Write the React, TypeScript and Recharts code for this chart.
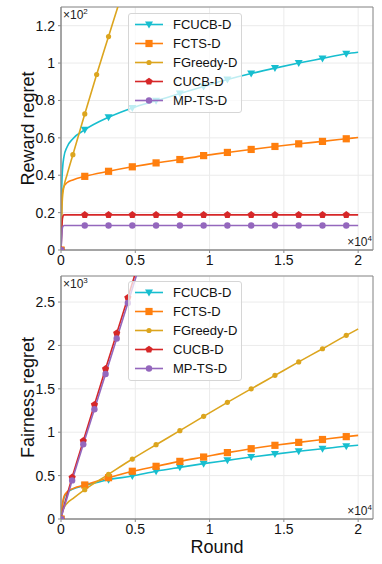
import React from 'react';
import { LineChart, Line, XAxis, YAxis, CartesianGrid, ReferenceArea } from 'recharts';

const seriesNames = ['FCUCB-D', 'FCTS-D', 'FGreedy-D', 'CUCB-D', 'MP-TS-D'];
const seriesColors = ['#17becf', '#ff7f0e', '#dca51e', '#d62728', '#9467bd'];
const seriesShapes = ['tri', 'sq', 'dot', 'pent', 'circ'];

const xTicks = [0, 0.5, 1, 1.5, 2];
const rewardTicks = [0, 0.2, 0.4, 0.6, 0.8, 1, 1.2];
const fairTicks = [0, 0.5, 1, 1.5, 2, 2.5];

// rounds, in units of 10^4
const roundsFull = [0, 0.005, 0.01, 0.02, 0.04, 0.08, 0.16, 0.32, 0.48, 0.64, 0.8, 0.96, 1.12, 1.28, 1.44, 1.6, 1.76, 1.92, 2.0];
const roundsGreedyTop = [0, 0.005, 0.01, 0.02, 0.04, 0.08, 0.16, 0.24, 0.32, 0.4, 0.48];
const roundsBaseFair = [0, 0.005, 0.01, 0.02, 0.04, 0.075, 0.15, 0.225, 0.3, 0.375, 0.45, 0.525];

// where markers are drawn
const marksFull = [0, 0.16, 0.32, 0.48, 0.64, 0.8, 0.96, 1.12, 1.28, 1.44, 1.6, 1.76, 1.92];
const marksGreedyTop = [0, 0.08, 0.16, 0.24, 0.32, 0.4];
const marksBaseFair = [0, 0.075, 0.15, 0.225, 0.3, 0.375, 0.45, 0.525];

// reward regret, units of 10^2
const rewardFCUCB = [0, 0.33, 0.43, 0.5, 0.55, 0.595, 0.643, 0.71, 0.76, 0.798, 0.837, 0.875, 0.912, 0.944, 0.973, 1.0, 1.025, 1.05, 1.058];
const rewardFCTS = [0, 0.25, 0.31, 0.34, 0.36, 0.375, 0.394, 0.421, 0.445, 0.466, 0.484, 0.505, 0.522, 0.538, 0.554, 0.568, 0.581, 0.595, 0.602];
const rewardGreedy = [0, 0.2, 0.28, 0.34, 0.4, 0.51, 0.728, 0.939, 1.142, 1.345, 1.55];
const rewardCUCB = [0, 0.1, 0.17, 0.188, 0.188, 0.188, 0.188, 0.188, 0.188, 0.188, 0.188, 0.188, 0.188, 0.188, 0.188, 0.188, 0.188, 0.188, 0.188];
const rewardMPTS = [0, 0.07, 0.12, 0.131, 0.131, 0.131, 0.131, 0.131, 0.131, 0.131, 0.131, 0.131, 0.131, 0.131, 0.131, 0.131, 0.131, 0.131, 0.131];

// fairness regret, units of 10^3
const fairFCUCB = [0, 0.1, 0.16, 0.24, 0.3, 0.345, 0.385, 0.453, 0.495, 0.55, 0.595, 0.638, 0.676, 0.714, 0.748, 0.78, 0.81, 0.838, 0.85];
const fairFCTS = [0, 0.12, 0.18, 0.26, 0.31, 0.35, 0.392, 0.476, 0.55, 0.607, 0.664, 0.714, 0.765, 0.81, 0.849, 0.883, 0.916, 0.949, 0.964];
const fairGreedy = [0, 0.06, 0.09, 0.13, 0.18, 0.235, 0.338, 0.515, 0.691, 0.856, 1.018, 1.183, 1.344, 1.5, 1.655, 1.81, 1.962, 2.116, 2.19];
const fairCUCB = [0, 0.04, 0.08, 0.15, 0.27, 0.48, 0.9, 1.317, 1.73, 2.14, 2.55, 2.97];
const fairMPTS = [0, 0.035, 0.07, 0.13, 0.24, 0.445, 0.86, 1.265, 1.67, 2.08, 2.49, 2.9];

const FRAME = '#8a8a8a';
const GRID = '#ebebeb';
const PLOT_LEFT = 61;
const PLOT_RIGHT = 373;

const toPoints = (xs: number[], ys: number[]) => xs.map((x, i) => ({ x, y: ys[i] }));

function Marker({ shape, cx, cy, color }: { shape: string; cx: number; cy: number; color: string }) {
  if (shape === 'tri') {
    return <polygon points={`${cx - 4},${cy - 3} ${cx + 4},${cy - 3} ${cx},${cy + 4}`} fill={color} />;
  }
  if (shape === 'sq') {
    return <rect x={cx - 3.6} y={cy - 3.6} width={7.2} height={7.2} fill={color} />;
  }
  if (shape === 'dot') {
    return <circle cx={cx} cy={cy} r={2.6} fill={color} />;
  }
  if (shape === 'pent') {
    const pts = [0, 1, 2, 3, 4]
      .map((k) => {
        const a = -Math.PI / 2 + (k * 2 * Math.PI) / 5;
        return `${cx + 3.8 * Math.cos(a)},${cy + 3.8 * Math.sin(a)}`;
      })
      .join(' ');
    return <polygon points={pts} fill={color} />;
  }
  return <circle cx={cx} cy={cy} r={3.2} fill={color} />;
}

const makeDot = (marks: number[], shape: string, color: string) => (props: any) => {
  const { cx, cy, payload, index } = props;
  const key = `m${index}`;
  if (cx == null || cy == null || !marks.some((m) => Math.abs(m - payload.x) < 1e-6)) return <g key={key} />;
  return (
    <g key={key}>
      <Marker shape={shape} cx={cx} cy={cy} color={color} />
    </g>
  );
};

interface SeriesDef {
  xs: number[];
  ys: number[];
  marks: number[];
}

interface PanelProps {
  top: number;
  height: number;
  marginTop: number;
  xAxisHeight: number;
  yMax: number;
  yTicks: number[];
  yTitle: string;
  yExp: string;
  showRound: boolean;
  series: SeriesDef[];
}

function Panel({ top, height, marginTop, xAxisHeight, yMax, yTicks, yTitle, yExp, showRound, series }: PanelProps) {
  const plotTop = marginTop;
  const plotBottom = height - xAxisHeight;
  const midY = (plotTop + plotBottom) / 2;

  const texts = () => (
    <g>
      <text x={28} y={midY} transform={`rotate(-90, 28, ${midY})`} textAnchor="middle" dominantBaseline="central" fontSize={18} fill="#111">
        {yTitle}
      </text>
      <text x={PLOT_LEFT + 2} y={plotTop + 11.5} fontSize={12} fill="#222">
        ×10<tspan fontSize={8} dy={-5}>{yExp}</tspan>
      </text>
      <text x={PLOT_RIGHT - 1} y={plotBottom - 4} fontSize={12} fill="#222" textAnchor="end">
        ×10<tspan fontSize={8} dy={-5}>4</tspan>
      </text>
      {showRound && (
        <text x={(PLOT_LEFT + PLOT_RIGHT) / 2} y={plotBottom + 28} textAnchor="middle" dominantBaseline="central" fontSize={18} fill="#111">
          Round
        </text>
      )}
    </g>
  );

  return (
    <div style={{ position: 'absolute', left: 0, top, width: 382, height }}>
      <LineChart width={382} height={height} margin={{ top: marginTop, right: 382 - PLOT_RIGHT, bottom: 0, left: 0 }}>
        <CartesianGrid stroke={GRID} strokeWidth={1} />
        <XAxis
          type="number"
          dataKey="x"
          domain={[0, 2.1]}
          ticks={xTicks}
          allowDataOverflow
          height={xAxisHeight}
          tickSize={3}
          tickMargin={2}
          axisLine={{ stroke: FRAME }}
          tickLine={{ stroke: FRAME }}
          tick={{ fill: '#111', fontSize: 14 }}
          tickFormatter={(v: number) => String(v)}
        />
        <YAxis
          type="number"
          dataKey="y"
          domain={[0, yMax]}
          ticks={yTicks}
          allowDataOverflow
          width={PLOT_LEFT}
          tickSize={3}
          tickMargin={3}
          axisLine={{ stroke: FRAME }}
          tickLine={{ stroke: FRAME }}
          tick={{ fill: '#111', fontSize: 14 }}
          tickFormatter={(v: number) => String(v)}
        />
        <ReferenceArea
          x1={0}
          x2={2.1}
          y1={0}
          y2={yMax}
          fill="none"
          stroke={FRAME}
          strokeWidth={1}
          ifOverflow="visible"
          label={{ content: texts }}
        />
        {series.map((s, i) => (
          <Line
            key={seriesNames[i]}
            data={toPoints(s.xs, s.ys)}
            dataKey="y"
            name={seriesNames[i]}
            type="monotone"
            stroke={seriesColors[i]}
            strokeWidth={1.6}
            dot={makeDot(s.marks, seriesShapes[i], seriesColors[i])}
            activeDot={false}
            isAnimationActive={false}
          />
        ))}
      </LineChart>
      <div
        style={{
          position: 'absolute',
          left: 128,
          top: 13,
          width: 114,
          boxSizing: 'border-box',
          border: '1px solid #d6d6d6',
          borderRadius: 3,
          background: 'rgba(255,255,255,0.72)',
          padding: '1px 0 2px 6px',
        }}
      >
        {seriesNames.map((n, i) => (
          <div key={n} style={{ display: 'flex', alignItems: 'center', height: 19 }}>
            <svg width={28} height={19} style={{ display: 'block' }}>
              <line x1={0} y1={9.5} x2={28} y2={9.5} stroke={seriesColors[i]} strokeWidth={1.6} />
              <Marker shape={seriesShapes[i]} cx={14} cy={9.5} color={seriesColors[i]} />
            </svg>
            <span style={{ marginLeft: 10, fontSize: 13, color: '#111', lineHeight: '19px' }}>{n}</span>
          </div>
        ))}
      </div>
    </div>
  );
}

export default function App() {
  const rewardSeries: SeriesDef[] = [
    { xs: roundsFull, ys: rewardFCUCB, marks: marksFull },
    { xs: roundsFull, ys: rewardFCTS, marks: marksFull },
    { xs: roundsGreedyTop, ys: rewardGreedy, marks: marksGreedyTop },
    { xs: roundsFull, ys: rewardCUCB, marks: marksFull },
    { xs: roundsFull, ys: rewardMPTS, marks: marksFull },
  ];
  const fairSeries: SeriesDef[] = [
    { xs: roundsFull, ys: fairFCUCB, marks: marksFull },
    { xs: roundsFull, ys: fairFCTS, marks: marksFull },
    { xs: roundsFull, ys: fairGreedy, marks: marksFull },
    { xs: roundsBaseFair, ys: fairCUCB, marks: marksBaseFair },
    { xs: roundsBaseFair, ys: fairMPTS, marks: marksBaseFair },
  ];

  return (
    <div
      style={{
        position: 'absolute',
        left: 0,
        top: 0,
        width: 382,
        height: 564,
        background: '#fff',
        fontFamily: '"Liberation Sans", Arial, sans-serif',
      }}
    >
      <Panel
        top={0}
        height={275}
        marginTop={7}
        xAxisHeight={25}
        yMax={1.3}
        yTicks={rewardTicks}
        yTitle="Reward regret"
        yExp="2"
        showRound={false}
        series={rewardSeries}
      />
      <Panel
        top={268}
        height={296}
        marginTop={8}
        xAxisHeight={45}
        yMax={2.8}
        yTicks={fairTicks}
        yTitle="Fairness regret"
        yExp="3"
        showRound
        series={fairSeries}
      />
    </div>
  );
}
